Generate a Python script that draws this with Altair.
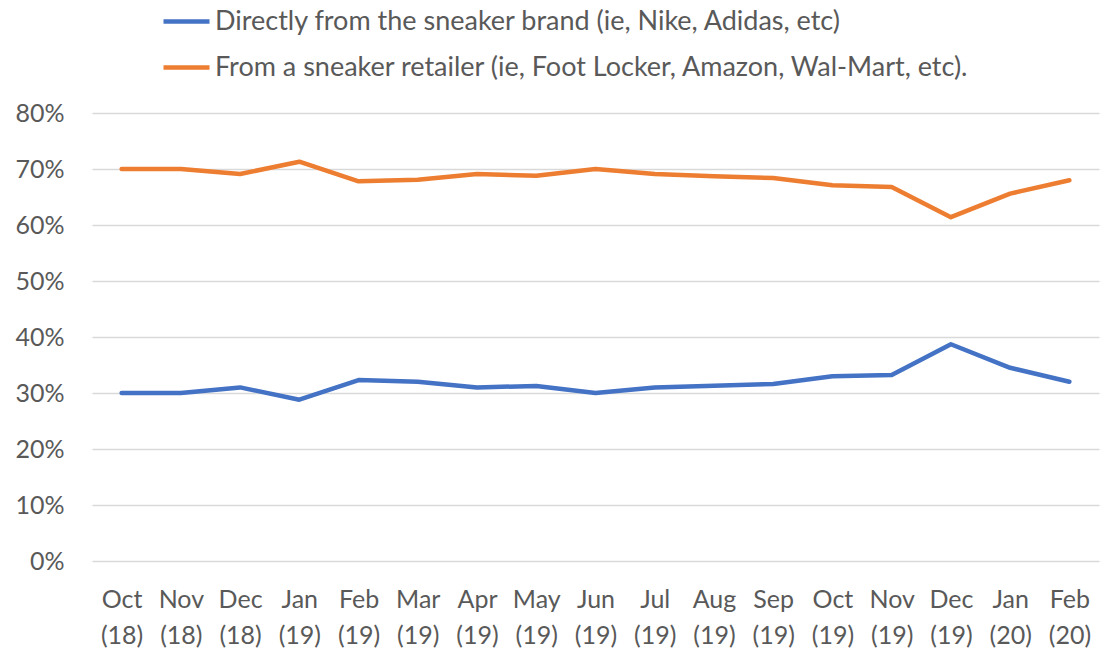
import altair as alt
import pandas as pd

months = ["Oct (18)", "Nov (18)", "Dec (18)", "Jan (19)", "Feb (19)", "Mar (19)",
          "Apr (19)", "May (19)", "Jun (19)", "Jul (19)", "Aug (19)", "Sep (19)",
          "Oct (19)", "Nov (19)", "Dec (19)", "Jan (20)", "Feb (20)"]
brand = [30.0, 30.0, 31.0, 28.8, 32.3, 32.0, 31.0, 31.25, 30.0, 31.0, 31.3, 31.6,
         33.0, 33.2, 38.7, 34.5, 32.0]
retailer = [70.0, 70.0, 69.1, 71.3, 67.8, 68.1, 69.1, 68.8, 70.0, 69.1, 68.7, 68.4,
            67.1, 66.8, 61.4, 65.6, 68.0]
series_names = ["Directly from the sneaker brand (ie, Nike, Adidas, etc)",
                "From a sneaker retailer (ie, Foot Locker, Amazon, Wal-Mart, etc)."]
colors = ["#4472C4", "#ED7D31"]

rows = []
for i, m in enumerate(months):
    rows.append({"month": m, "series": series_names[0], "value": brand[i] / 100})
    rows.append({"month": m, "series": series_names[1], "value": retailer[i] / 100})
df = pd.DataFrame(rows)

FONT = "Lato"
TXT = "#595959"

chart = alt.Chart(df).mark_line(strokeWidth=4.5, strokeCap="round", strokeJoin="round").encode(
    x=alt.X("month:N", sort=months, title=None,
            scale=alt.Scale(type="point", padding=0.5),
            axis=alt.Axis(labelAngle=0, ticks=False, domain=False, grid=False,
                          labelExpr="split(datum.label, ' ')",
                          labelBaseline="alphabetic", labelPadding=46,
                          labelLineHeight=36, labelFont=FONT, labelFontSize=25,
                          labelColor=TXT)),
    y=alt.Y("value:Q", title=None,
            scale=alt.Scale(domain=[0, 0.8], nice=False),
            axis=alt.Axis(format=".0%", values=[0, 0.1, 0.2, 0.3, 0.4, 0.5, 0.6, 0.7, 0.8],
                          ticks=False, domain=False, grid=True, gridColor="#D9D9D9",
                          gridWidth=1.3, labelPadding=28, labelFont=FONT,
                          labelFontSize=25, labelColor=TXT)),
    color=alt.Color("series:N", sort=series_names,
                    scale=alt.Scale(domain=series_names, range=colors),
                    legend=alt.Legend(title=None, orient="none", legendX=69, legendY=-117,
                                      direction="vertical", symbolType="stroke",
                                      symbolSize=2116, symbolStrokeWidth=4.5,
                                      labelFont=FONT, labelFontSize=27, labelColor=TXT,
                                      labelOffset=3, rowPadding=7, padding=0,
                                      labelLimit=1000)),
).properties(
    width=1007, height=448,
    autosize=alt.AutoSizeParams(type="none"),
    padding={"left": 92, "top": 113, "right": 1, "bottom": 92},
).configure_view(stroke=None)

chart.save("out.html", embed_options={"renderer": "svg", "actions": False})
